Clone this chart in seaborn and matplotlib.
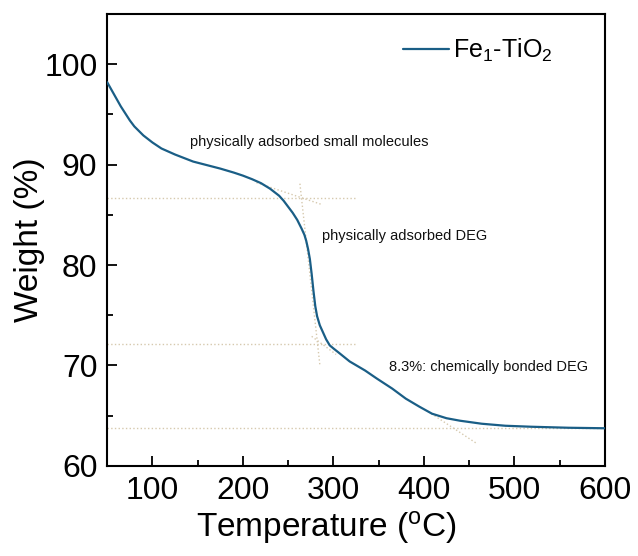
import matplotlib
matplotlib.use('Agg')
import matplotlib.pyplot as plt
from matplotlib.ticker import MultipleLocator
import seaborn as sns
import pandas as pd

# ------------------------------------------------------------
#  Données TGA
# ------------------------------------------------------------
temperature = [50, 55, 60, 65, 70, 75, 80, 90, 100, 110, 125, 145, 160, 175,
               190, 200, 210, 220, 230, 240, 245, 250, 255, 260, 265, 268, 270,
               272, 274, 276, 278, 280, 282, 285, 288, 292, 296, 300, 307, 318,
               335, 348, 365, 380, 395, 409, 425, 440, 464, 490, 519, 560, 600]
weight = [98.2, 97.4, 96.6, 95.8, 95.1, 94.4, 93.8, 92.9, 92.2, 91.6, 91.0,
          90.3, 89.95, 89.6, 89.2, 88.9, 88.55, 88.15, 87.6, 86.9, 86.4, 85.8,
          85.2, 84.5, 83.6, 83.0, 82.4, 81.6, 80.6, 79.1, 77.4, 75.9, 74.9,
          74.0, 73.4, 72.6, 72.0, 71.7, 71.2, 70.4, 69.5, 68.7, 67.7, 66.7,
          65.9, 65.2, 64.75, 64.5, 64.2, 64.0, 63.9, 63.8, 63.75]
serie = 'Fe$_1$-TiO$_2$'

# lignes de construction (tangentes)
tangentes_x = [[50, 324], [215, 288], [263, 285], [50, 326], [276, 303],
               [50, 600], [405, 459]]
tangentes_y = [[86.7, 86.7], [88.2, 86.0], [88.1, 70.1], [72.1, 72.1],
               [72.9, 71.1], [63.75, 63.75], [65.4, 62.2]]

annotations = ['physically adsorbed small molecules', 'physically adsorbed DEG',
               '8.3%: chemically bonded DEG']
annot_x = [142, 287, 362]
annot_y = [92.2, 82.9, 69.8]

# ------------------------------------------------------------
#  Style
# ------------------------------------------------------------
sns.set_style('ticks')
plt.rcParams['font.family'] = ['Liberation Sans', 'DejaVu Sans']
plt.rcParams['mathtext.fontset'] = 'custom'
plt.rcParams['mathtext.rm'] = 'Liberation Sans'
plt.rcParams['mathtext.it'] = 'Liberation Sans:italic'
plt.rcParams['text.color'] = 'black'
plt.rcParams['axes.labelcolor'] = 'black'
plt.rcParams['xtick.color'] = 'black'
plt.rcParams['ytick.color'] = 'black'
plt.rcParams['axes.edgecolor'] = 'black'

df = pd.DataFrame({'temperature': temperature, 'weight': weight})

fig = plt.figure(figsize=(6.38, 5.56), dpi=100)
ax = fig.add_axes([0.168, 0.162, 0.780, 0.813])

for tx, ty in zip(tangentes_x, tangentes_y):
    ax.plot(tx, ty, linestyle=':', color='#d6c9ae', linewidth=1.0, zorder=1)

sns.lineplot(data=df, x='temperature', y='weight', color='#1a5e86',
             linewidth=1.6, label=serie, ax=ax, zorder=3)

for txt, x, y in zip(annotations, annot_x, annot_y):
    ax.text(x, y, txt, fontsize=10.5, ha='left', va='center', color='#111111')

ax.set_xlim(50, 600)
ax.set_ylim(60, 105)
ax.xaxis.set_major_locator(MultipleLocator(100))
ax.xaxis.set_minor_locator(MultipleLocator(50))
ax.yaxis.set_major_locator(MultipleLocator(10))
ax.yaxis.set_minor_locator(MultipleLocator(5))
ax.tick_params(which='both', direction='in', top=False, right=False,
               width=1.3, labelsize=23, pad=7)
ax.tick_params(which='major', length=7)
ax.tick_params(which='minor', length=4)
for s in ax.spines.values():
    s.set_linewidth(1.5)
    s.set_visible(True)

ax.set_xlabel('Temperature ($^{\\mathrm{o}}$C)', fontsize=24)
ax.set_ylabel('Weight (%)', fontsize=24)
ax.xaxis.set_label_coords(0.44, -0.095)
ax.yaxis.set_label_coords(-0.125, 0.5)

ax.legend(loc='upper right', frameon=False, fontsize=18, handlelength=1.85,
          handletextpad=0.15, bbox_to_anchor=(0.94, 1.0))

fig.savefig('out.png', dpi=100)
